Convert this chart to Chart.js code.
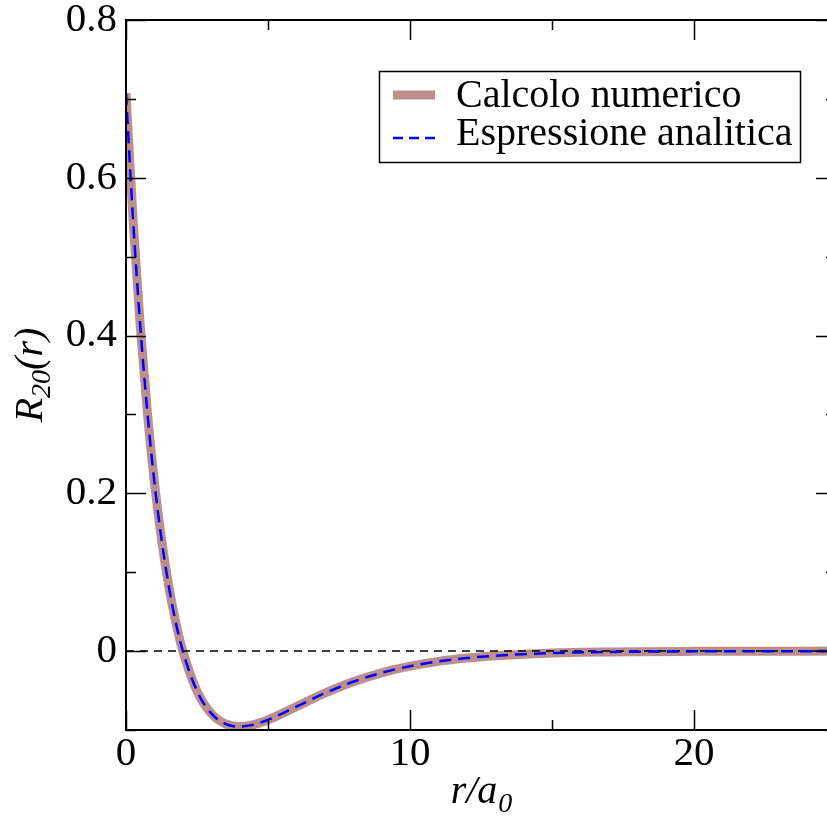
<!DOCTYPE html>
<html>
<head>
<meta charset="utf-8">
<script src="https://cdn.jsdelivr.net/npm/chart.js@4.4.1/dist/chart.umd.min.js"></script>
<style>
  html, body { margin: 0; padding: 0; background: #fff; overflow: hidden; }
  #wrap { width: 846px; height: 821px; }
</style>
</head>
<body>
<div id="wrap"><canvas id="chart" width="846" height="821"></canvas></div>
<script>
// r / a0
const rVals = [0, 0.25, 0.5, 0.75, 1, 1.25, 1.5, 1.75, 2, 2.5, 3, 3.5, 4, 4.5, 5, 6, 7, 8, 9, 10,
  11, 12, 13, 14, 15, 16, 17, 18, 20, 22, 25];
// R20(r), numerical
const numerico = [0.707, 0.546, 0.413, 0.304, 0.214, 0.142, 0.0835, 0.0368, 0, -0.0506, -0.0789,
  -0.0922, -0.0957, -0.0932, -0.0871, -0.0704, -0.0534, -0.0389, -0.0275, -0.0191,
  -0.0130, -0.0088, -0.0059, -0.0039, -0.0025, -0.0016, -0.0011, -0.0007, -0.0003, -0.0001, 0];
// R20(r), analytical
const analitica = [0.707, 0.546, 0.413, 0.304, 0.214, 0.142, 0.0835, 0.0368, 0, -0.0506, -0.0789,
  -0.0922, -0.0957, -0.0932, -0.0871, -0.0704, -0.0534, -0.0389, -0.0275, -0.0191,
  -0.0130, -0.0088, -0.0059, -0.0039, -0.0025, -0.0016, -0.0011, -0.0007, -0.0003, -0.0001, 0];
const zeroX = [0, 25];
const zeroY = [0, 0];

const xMajor = [0, 10, 20];
const xMinor = [5, 15, 25];
const yMajor = [0, 0.2, 0.4, 0.6, 0.8];
const yMinor = [-0.1, 0.1, 0.3, 0.5, 0.7];
const legendLabels = ['Calcolo numerico', 'Espressione analitica'];

const SERIF = '"Liberation Serif", "DejaVu Serif", serif';
const ROSY = '#bc8f8f';
const BLUE = '#0000ff';

const pts = (xs, ys) => xs.map((x, i) => ({ x: x, y: ys[i] }));

// frame, inward ticks, legend box and axis titles
const decorations = {
  id: 'decorations',
  afterDraw(chart) {
    const ctx = chart.ctx;
    const a = chart.chartArea;
    const xs = chart.scales.x, ys = chart.scales.y;
    ctx.save();
    ctx.strokeStyle = '#000';
    ctx.lineWidth = 2;
    ctx.strokeRect(a.left, a.top, a.right - a.left, a.bottom - a.top);

    ctx.lineWidth = 1.5;
    ctx.beginPath();
    const xt = (v, len) => {
      const p = Math.round(xs.getPixelForValue(v)) + 0.5;
      ctx.moveTo(p, a.bottom); ctx.lineTo(p, a.bottom - len);
      ctx.moveTo(p, a.top); ctx.lineTo(p, a.top + len);
    };
    const yt = (v, len) => {
      const p = Math.round(ys.getPixelForValue(v)) + 0.5;
      ctx.moveTo(a.left, p); ctx.lineTo(a.left + len, p);
      ctx.moveTo(a.right, p); ctx.lineTo(a.right - len, p);
    };
    xMajor.forEach(v => xt(v, 20));
    xMinor.forEach(v => xt(v, 10));
    yMajor.forEach(v => yt(v, 20));
    yMinor.forEach(v => yt(v, 10));
    ctx.stroke();

    // legend
    ctx.fillStyle = '#fff';
    ctx.fillRect(379, 71, 421, 91);
    ctx.lineWidth = 1.5;
    ctx.strokeRect(379.5, 71.5, 421, 91);
    ctx.lineCap = 'butt';
    ctx.strokeStyle = ROSY;
    ctx.lineWidth = 9;
    ctx.beginPath(); ctx.moveTo(393, 95); ctx.lineTo(435, 95); ctx.stroke();
    ctx.strokeStyle = BLUE;
    ctx.lineWidth = 2.5;
    ctx.setLineDash([10, 6]);
    ctx.beginPath(); ctx.moveTo(393, 138); ctx.lineTo(435, 138); ctx.stroke();
    ctx.setLineDash([]);
    ctx.fillStyle = '#000';
    ctx.font = '40px ' + SERIF;
    ctx.textAlign = 'left';
    ctx.textBaseline = 'alphabetic';
    ctx.fillText(legendLabels[0], 456, 107);
    ctx.fillText(legendLabels[1], 456, 145);

    // x title r/a0
    const big = 'italic 40px ' + SERIF, small = 'italic 28px ' + SERIF;
    ctx.font = big;
    const w1 = ctx.measureText('r/a').width;
    ctx.font = small;
    const w2 = ctx.measureText('0').width;
    const cx = (a.left + a.right) / 2;
    let x0 = cx - (w1 + w2) / 2;
    ctx.font = big;
    ctx.fillText('r/a', x0, 803);
    ctx.font = small;
    ctx.fillText('0', x0 + w1 + 1, 812);

    // y title R20(r)
    ctx.translate(42, (a.top + a.bottom) / 2);
    ctx.rotate(-Math.PI / 2);
    ctx.font = big;
    const wa = ctx.measureText('R').width;
    const wc = ctx.measureText('(r)').width;
    ctx.font = small;
    const wb = ctx.measureText('20').width;
    let y0 = -(wa + wb + wc) / 2;
    ctx.font = big;
    ctx.fillText('R', y0, 0);
    ctx.font = small;
    ctx.fillText('20', y0 + wa, 8);
    ctx.font = big;
    ctx.fillText('(r)', y0 + wa + wb, 0);
    ctx.restore();
  }
};

new Chart(document.getElementById('chart'), {
  type: 'line',
  data: {
    datasets: [
      {
        label: legendLabels[0],
        data: pts(rVals, numerico),
        borderColor: ROSY,
        borderWidth: 9,
        pointRadius: 0,
        cubicInterpolationMode: 'monotone',
        borderCapStyle: 'butt',
        order: 3
      },
      {
        label: legendLabels[1],
        data: pts(rVals, analitica),
        borderColor: BLUE,
        borderWidth: 2.5,
        borderDash: [12, 7],
        pointRadius: 0,
        cubicInterpolationMode: 'monotone',
        order: 1
      },
      {
        label: 'zero',
        data: pts(zeroX, zeroY),
        borderColor: '#000',
        borderWidth: 1.5,
        borderDash: [8, 6],
        pointRadius: 0,
        order: 2
      }
    ]
  },
  options: {
    responsive: false,
    animation: false,
    events: [],
    layout: { padding: { top: 20, right: 10, left: 0, bottom: 0 } },
    plugins: {
      legend: { display: false },
      tooltip: { enabled: false }
    },
    scales: {
      x: {
        type: 'linear',
        min: 0,
        max: 25,
        afterFit: s => { s.height = 91; s.paddingLeft = 0; s.paddingRight = 0; },
        afterBuildTicks: s => { s.ticks = xMajor.map(v => ({ value: v })); },
        grid: { display: false, drawTicks: false },
        border: { display: false },
        ticks: {
          padding: 4,
          maxRotation: 0,
          color: '#000',
          font: { family: SERIF, size: 41, lineHeight: 1.0 },
          callback: v => String(v)
        }
      },
      y: {
        min: -0.1,
        max: 0.8,
        afterFit: s => { s.width = 126; s.paddingTop = 0; s.paddingBottom = 0; },
        afterBuildTicks: s => { s.ticks = yMajor.map(v => ({ value: v })); },
        grid: { display: false, drawTicks: false },
        border: { display: false },
        ticks: {
          padding: 9,
          color: '#000',
          font: { family: SERIF, size: 41, lineHeight: 1.0 },
          callback: v => (v === 0 ? '0' : v.toFixed(1))
        }
      }
    }
  },
  plugins: [decorations]
});
</script>
</body>
</html>
